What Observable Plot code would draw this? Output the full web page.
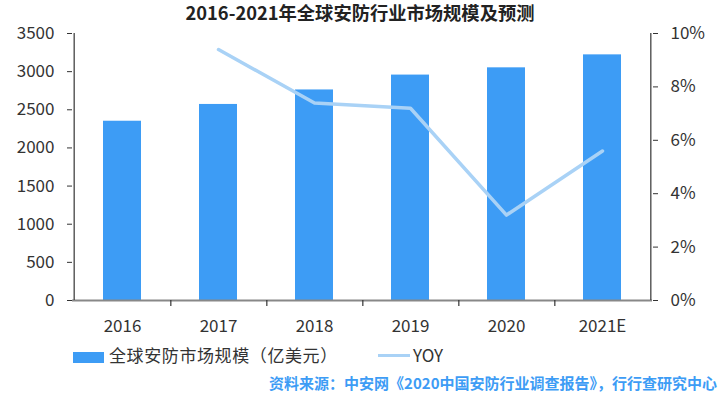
<!DOCTYPE html>
<html>
<head>
<meta charset="utf-8">
<script src="https://cdn.jsdelivr.net/npm/d3@7"></script>
<script src="https://cdn.jsdelivr.net/npm/@observablehq/plot@0.6"></script>
<style>
  html, body { margin: 0; padding: 0; background: #fff; }
  body { width: 720px; height: 395px; position: relative; overflow: hidden; font-family: "Noto Sans CJK SC", "Noto Sans", sans-serif; color: #333; }
  #title { position: absolute; left: 0; top: -1px; width: 720px; height: 26px; line-height: 26px; text-align: center; font-size: 18.3px; font-weight: bold; color: #222; z-index: 2; }
  #chart { position: absolute; left: 0; top: 10px; z-index: 1; }
  .leg { position: absolute; font-size: 17px; color: #333; line-height: 20px; white-space: nowrap; }
  #source { position: absolute; right: 3px; top: 373px; font-size: 15px; font-weight: bold; color: #3d9cf5; white-space: nowrap; line-height: 20px; }
</style>
</head>
<body>
<div id="title">2016-2021年全球安防行业市场规模及预测</div>
<div id="chart"></div>
<div class="leg" style="left:73px; top:345px;"><span style="display:inline-block;width:31px;height:11px;background:#3d9cf5;vertical-align:-1px;margin-right:5px;"></span><span style="letter-spacing:0.6px;">全球安防市场规模（亿美元）</span></div>
<div class="leg" style="left:378px; top:345px;"><span style="display:inline-block;width:32px;height:3px;background:#a9d2f6;vertical-align:5px;margin-right:3px;"></span>YOY</div>
<div id="source">资料来源：中安网《2020中国安防行业调查报告》，行行查研究中心</div>
<script>
const years = ["2016", "2017", "2018", "2019", "2020", "2021E"];
const marketSize = [2350, 2570, 2760, 2955, 3050, 3220];
const yoyYears = ["2017", "2018", "2019", "2020", "2021E"];
const yoyPct = [9.4, 7.4, 7.2, 3.2, 5.6];
const leftTicks = [0, 500, 1000, 1500, 2000, 2500, 3000, 3500];
const rightTicks = [0, 2, 4, 6, 8, 10];

const W = 720, H = 330, mL = 72, mR = 68, mT = 23, mB = 40;
const pctScale = 3500 / 10;
const step = (W - mL - mR) / years.length;

const bars = years.map((y, i) => ({year: y, value: marketSize[i]}));
const yoy = yoyYears.map((y, i) => ({year: y, pct: yoyPct[i]}));

const chart = Plot.plot({
  width: W, height: H,
  marginLeft: mL, marginRight: mR, marginTop: mT, marginBottom: mB,
  style: {fontFamily: "'Noto Sans CJK SC', 'Noto Sans', sans-serif", color: "#333", background: "transparent", overflow: "visible"},
  x: {type: "band", domain: years, paddingInner: 0.6, paddingOuter: 0.3, align: 0.5, axis: null},
  y: {domain: [0, 3500], axis: null},
  marks: [
    Plot.barY(bars, {x: "year", y: "value", fill: "#3d9cf5"}),
    Plot.line(yoy, {x: "year", y: d => d.pct * pctScale, stroke: "#a9d2f6", strokeWidth: 3.5}),
    Plot.ruleY([0], {stroke: "#888", strokeWidth: 2}),
    Plot.ruleX([years[0]], {dx: -step / 2, y1: 0, y2: 3500, stroke: "#333", strokeWidth: 1.2}),
    Plot.ruleX([years[years.length - 1]], {dx: step / 2, y1: 0, y2: 3500, stroke: "#333", strokeWidth: 1.2}),
    Plot.ruleX(years.slice(0, -1), {dx: step / 2, y1: 0, y2: 0, insetBottom: -6, stroke: "#333", strokeWidth: 1.2}),
    Plot.axisY({anchor: "left", label: null, ticks: leftTicks, tickSize: 5, tickPadding: 13, fontSize: 17, tickFormat: d => String(d)}),
    Plot.axisY({anchor: "right", label: null, ticks: rightTicks.map(p => p * pctScale), tickSize: 5, tickPadding: 13, fontSize: 17, tickFormat: d => Math.round(d / pctScale) + "%"}),
    Plot.axisX({anchor: "bottom", label: null, tickSize: 0, tickPadding: 19, fontSize: 17})
  ]
});
document.getElementById("chart").appendChild(chart);
</script>
</body>
</html>
